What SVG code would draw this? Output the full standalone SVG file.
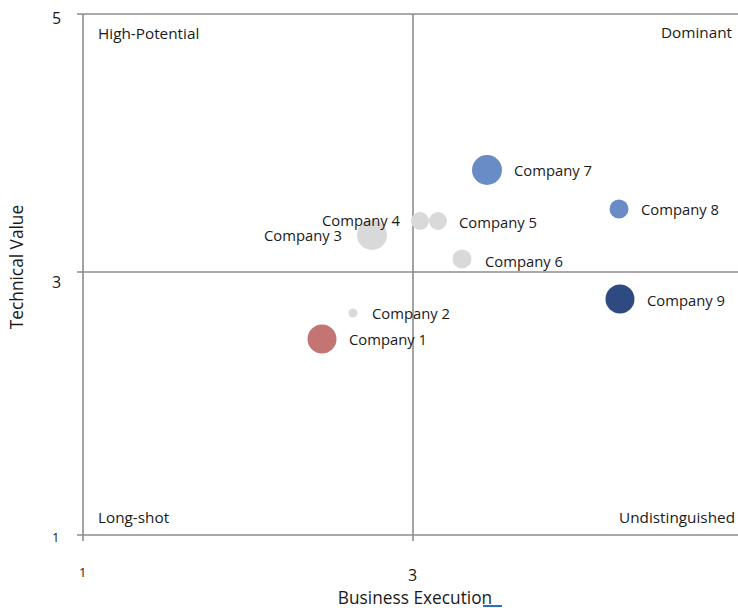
<svg xmlns="http://www.w3.org/2000/svg" width="738" height="608" viewBox="0 0 738 608">
<style>
text { font-family: "Open Sans", "Noto Sans", "Liberation Sans", sans-serif; fill: #1a1a1a; }
.lbl { font-size: 14.8px; }
.q { font-size: 15.3px; }
.tick { font-size: 16px; fill: #1a1a1a; }
.small { font-size: 13px; fill: #1a1a1a; }
.title { font-size: 17.3px; }
.grid { stroke: #8c8c8c; stroke-width: 1.6; fill: none; }
.gray { fill: #d9d9d9; }
.blue { fill: #6a8cc6; }
.navy { fill: #2f4a80; }
.red { fill: #c47573; }
</style>
<rect width="738" height="608" fill="#ffffff"/>
<g id="axes">
  <line class="grid" x1="77" y1="14" x2="738" y2="14"/>
  <line class="grid" x1="77" y1="272" x2="738" y2="272"/>
  <line class="grid" x1="77" y1="535" x2="738" y2="535"/>
  <line class="grid" x1="83" y1="14" x2="83" y2="541"/>
  <line class="grid" x1="413" y1="14" x2="413" y2="541"/>
  <text class="tick" x="52" y="24">5</text>
  <text class="tick" x="52" y="288">3</text>
  <text class="small" x="52" y="542">1</text>
  <text class="small" x="79" y="577">1</text>
  <text class="tick" x="408" y="581">3</text>
  <text class="title" x="415" y="604" text-anchor="middle">Business Execution</text>
  <line x1="483" y1="606" x2="502" y2="606" stroke="#2a6ebb" stroke-width="2"/>
  <text class="title" transform="translate(23,267) rotate(-90)" text-anchor="middle">Technical Value</text>
</g>
<g id="quadrants">
  <text class="q" x="98" y="39">High-Potential</text>
  <text class="q" x="732" y="38" text-anchor="end">Dominant</text>
  <text class="q" x="98" y="523">Long-shot</text>
  <text class="q" x="735" y="523" text-anchor="end">Undistinguished</text>
</g>
<g id="company1"><circle class="red" cx="322" cy="339" r="14.5"/><text class="lbl" x="349" y="345">Company 1</text></g>
<g id="company2"><circle class="gray" cx="353" cy="313" r="4.5"/><text class="lbl" x="372" y="319">Company 2</text></g>
<g id="company3"><circle class="gray" cx="372" cy="235" r="15"/><text class="lbl" x="264" y="241">Company 3</text></g>
<g id="company4"><circle class="gray" cx="420" cy="221" r="9"/><text class="lbl" x="322" y="226">Company 4</text></g>
<g id="company5"><circle class="gray" cx="438" cy="221" r="9"/><text class="lbl" x="459" y="228">Company 5</text></g>
<g id="company6"><circle class="gray" cx="462" cy="259" r="9.5"/><text class="lbl" x="485" y="267">Company 6</text></g>
<g id="company7"><circle class="blue" cx="487" cy="170" r="15"/><text class="lbl" x="514" y="176">Company 7</text></g>
<g id="company8"><circle class="blue" cx="619" cy="209" r="9.5"/><text class="lbl" x="641" y="215">Company 8</text></g>
<g id="company9"><circle class="navy" cx="620" cy="299" r="14.5"/><text class="lbl" x="647" y="306">Company 9</text></g>
</svg>
